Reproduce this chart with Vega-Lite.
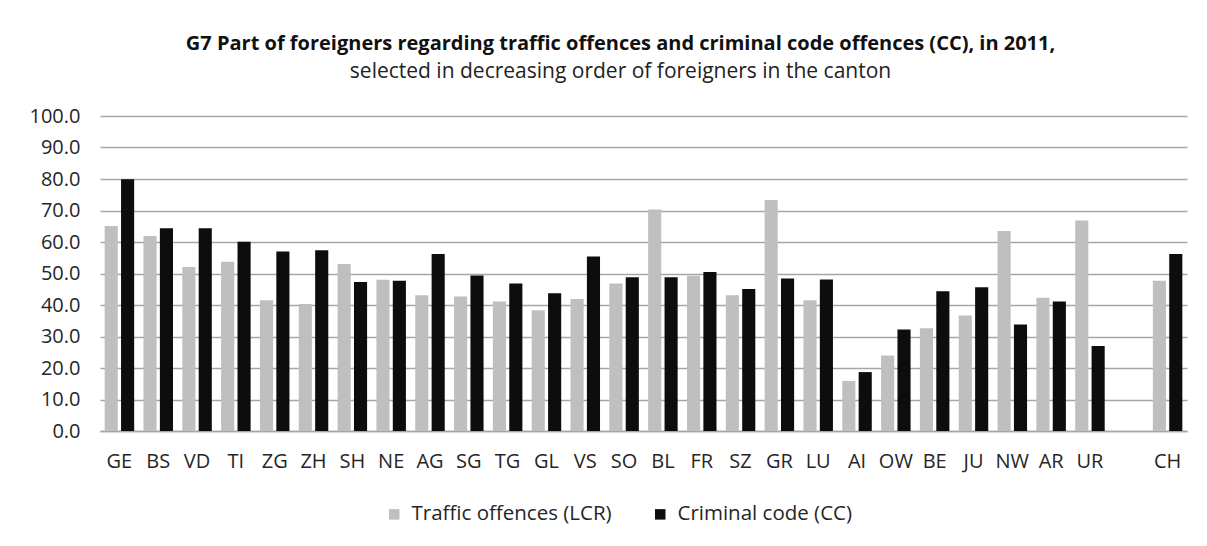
{
  "$schema": "https://vega.github.io/schema/vega-lite/v6.json",
  "autosize": "none",
  "padding": {"left": 100, "top": 116, "right": 20, "bottom": 115},
  "width": 1087,
  "height": 315,
  "background": "white",
  "title": {
    "text": "G7 Part of foreigners regarding traffic  offences and criminal code offences (CC), in 2011,",
    "subtitle": "selected in decreasing order of foreigners in the canton",
    "anchor": "middle",
    "dx": -23,
    "offset": 24,
    "font": "Open Sans",
    "fontSize": 20,
    "fontWeight": "bold",
    "color": "#111111",
    "subtitleFont": "Open Sans",
    "subtitleFontSize": 21,
    "subtitleColor": "#222222",
    "subtitlePadding": 7
  },
  "data": {
    "values": [
      {"canton": "GE", "type": "Traffic offences (LCR)", "value": 65.1},
      {"canton": "GE", "type": "Criminal code (CC)", "value": 79.9},
      {"canton": "BS", "type": "Traffic offences (LCR)", "value": 61.9},
      {"canton": "BS", "type": "Criminal code (CC)", "value": 64.4},
      {"canton": "VD", "type": "Traffic offences (LCR)", "value": 52.1},
      {"canton": "VD", "type": "Criminal code (CC)", "value": 64.4},
      {"canton": "TI", "type": "Traffic offences (LCR)", "value": 53.7},
      {"canton": "TI", "type": "Criminal code (CC)", "value": 60.1},
      {"canton": "ZG", "type": "Traffic offences (LCR)", "value": 41.5},
      {"canton": "ZG", "type": "Criminal code (CC)", "value": 57.0},
      {"canton": "ZH", "type": "Traffic offences (LCR)", "value": 40.3},
      {"canton": "ZH", "type": "Criminal code (CC)", "value": 57.4},
      {"canton": "SH", "type": "Traffic offences (LCR)", "value": 53.0},
      {"canton": "SH", "type": "Criminal code (CC)", "value": 47.3},
      {"canton": "NE", "type": "Traffic offences (LCR)", "value": 48.0},
      {"canton": "NE", "type": "Criminal code (CC)", "value": 47.7},
      {"canton": "AG", "type": "Traffic offences (LCR)", "value": 43.1},
      {"canton": "AG", "type": "Criminal code (CC)", "value": 56.2},
      {"canton": "SG", "type": "Traffic offences (LCR)", "value": 42.7},
      {"canton": "SG", "type": "Criminal code (CC)", "value": 49.4},
      {"canton": "TG", "type": "Traffic offences (LCR)", "value": 41.1},
      {"canton": "TG", "type": "Criminal code (CC)", "value": 46.8},
      {"canton": "GL", "type": "Traffic offences (LCR)", "value": 38.3},
      {"canton": "GL", "type": "Criminal code (CC)", "value": 43.7},
      {"canton": "VS", "type": "Traffic offences (LCR)", "value": 41.9},
      {"canton": "VS", "type": "Criminal code (CC)", "value": 55.4},
      {"canton": "SO", "type": "Traffic offences (LCR)", "value": 46.8},
      {"canton": "SO", "type": "Criminal code (CC)", "value": 48.8},
      {"canton": "BL", "type": "Traffic offences (LCR)", "value": 70.3},
      {"canton": "BL", "type": "Criminal code (CC)", "value": 48.8},
      {"canton": "FR", "type": "Traffic offences (LCR)", "value": 49.3},
      {"canton": "FR", "type": "Criminal code (CC)", "value": 50.5},
      {"canton": "SZ", "type": "Traffic offences (LCR)", "value": 43.1},
      {"canton": "SZ", "type": "Criminal code (CC)", "value": 45.1},
      {"canton": "GR", "type": "Traffic offences (LCR)", "value": 73.3},
      {"canton": "GR", "type": "Criminal code (CC)", "value": 48.4},
      {"canton": "LU", "type": "Traffic offences (LCR)", "value": 41.5},
      {"canton": "LU", "type": "Criminal code (CC)", "value": 48.1},
      {"canton": "AI", "type": "Traffic offences (LCR)", "value": 15.9},
      {"canton": "AI", "type": "Criminal code (CC)", "value": 18.7},
      {"canton": "OW", "type": "Traffic offences (LCR)", "value": 24.0},
      {"canton": "OW", "type": "Criminal code (CC)", "value": 32.2},
      {"canton": "BE", "type": "Traffic offences (LCR)", "value": 32.6},
      {"canton": "BE", "type": "Criminal code (CC)", "value": 44.4},
      {"canton": "JU", "type": "Traffic offences (LCR)", "value": 36.7},
      {"canton": "JU", "type": "Criminal code (CC)", "value": 45.6},
      {"canton": "NW", "type": "Traffic offences (LCR)", "value": 63.5},
      {"canton": "NW", "type": "Criminal code (CC)", "value": 33.8},
      {"canton": "AR", "type": "Traffic offences (LCR)", "value": 42.3},
      {"canton": "AR", "type": "Criminal code (CC)", "value": 41.1},
      {"canton": "UR", "type": "Traffic offences (LCR)", "value": 66.8},
      {"canton": "UR", "type": "Criminal code (CC)", "value": 27.0},
      {"canton": "CH", "type": "Traffic offences (LCR)", "value": 47.7},
      {"canton": "CH", "type": "Criminal code (CC)", "value": 56.2}
    ]
  },
  "mark": {"type": "bar"},
  "encoding": {
    "x": {
      "field": "canton",
      "type": "nominal",
      "scale": {
        "domain": ["GE","BS","VD","TI","ZG","ZH","SH","NE","AG","SG","TG","GL","VS","SO","BL","FR","SZ","GR","LU","AI","OW","BE","JU","NW","AR","UR"," ","CH"],
        "paddingInner": 0.24,
        "paddingOuter": 0.12
      },
      "axis": {
        "title": null,
        "labelAngle": 0,
        "ticks": false,
        "tickSize": 0,
        "labelPadding": 20,
        "labelFont": "Open Sans",
        "labelFontSize": 20,
        "labelColor": "#262626",
        "domainColor": "#a6a6a6",
        "domainWidth": 1.5,
        "grid": false
      }
    },
    "xOffset": {
      "field": "type",
      "type": "nominal",
      "sort": ["Traffic offences (LCR)", "Criminal code (CC)"],
      "scale": {"paddingInner": 0.2, "paddingOuter": 0}
    },
    "y": {
      "field": "value",
      "type": "quantitative",
      "scale": {"domain": [0, 100], "nice": false},
      "axis": {
        "title": null,
        "values": [0,10,20,30,40,50,60,70,80,90,100],
        "format": ".1f",
        "ticks": false,
        "tickSize": 0,
        "domain": false,
        "labelPadding": 20,
        "labelFont": "Open Sans",
        "labelFontSize": 20,
        "labelColor": "#262626",
        "gridColor": "#a6a6a6",
        "gridWidth": 1.5
      }
    },
    "color": {
      "field": "type",
      "type": "nominal",
      "scale": {
        "domain": ["Traffic offences (LCR)", "Criminal code (CC)"],
        "range": ["#bfbfbf", "#0d0d0d"]
      },
      "legend": {
        "title": null,
        "orient": "none",
        "direction": "horizontal",
        "legendX": 284,
        "legendY": 388,
        "symbolType": "square",
        "symbolSize": 110,
        "symbolStrokeWidth": 0,
        "labelFont": "Open Sans",
        "labelFontSize": 20.5,
        "labelColor": "#262626",
        "labelOffset": 7,
        "columnPadding": 38,
        "padding": 0,
        "labelLimit": 400
      }
    }
  },
  "config": {
    "view": {"stroke": null}
  }
}
